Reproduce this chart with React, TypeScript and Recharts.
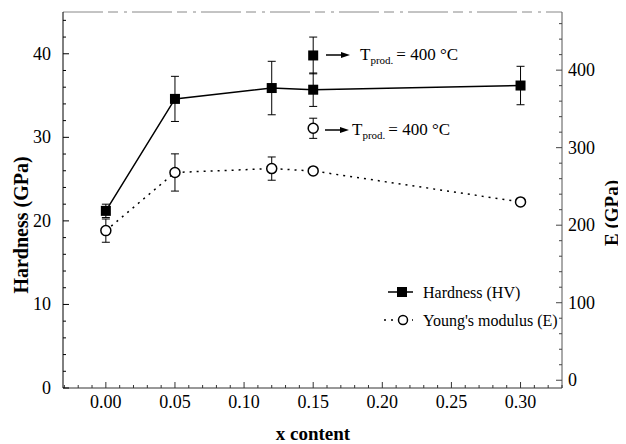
import { ComposedChart, Line, Scatter, XAxis, YAxis, ErrorBar, ReferenceLine } from 'recharts'

// x content of each sample
const xContent = [0, 0.05, 0.12, 0.15, 0.3]
// Hardness (GPa), left axis
const hardness = [21.2, 34.6, 35.9, 35.7, 36.2]
const hardnessErr = [0.8, 2.7, 3.2, 2.0, 2.3]
// Young's modulus (GPa), right axis
const modulus = [193, 268, 273, 270, 230]
const modulusErr = [15, 24, 15, null, null]
// samples produced at 400 °C
const prodX = [0.15]
const prodHardness = [39.8]
const prodHardnessErr = [2.2]
const prodModulus = [325]
const prodModulusErr = [13]

const xMajor = [0, 0.05, 0.1, 0.15, 0.2, 0.25, 0.3]
const hMajor = [0, 10, 20, 30, 40]
const eMajor = [0, 100, 200, 300, 400]

const xTicks = Array.from({ length: 37 }, (_, i) => (i - 3) / 100)
const hTicks = Array.from({ length: 23 }, (_, i) => i * 2)
const eTicks = Array.from({ length: 24 }, (_, i) => i * 20)

const FONT = "'Times New Roman', 'Liberation Serif', serif"

const hardnessData = xContent.map((x, i) => ({ x, y: hardness[i], err: hardnessErr[i] }))
const modulusData = xContent.map((x, i) => ({ x, y: modulus[i], err: modulusErr[i] }))
const prodHardnessData = prodX.map((x, i) => ({ x, y: prodHardness[i], err: prodHardnessErr[i] }))
const prodModulusData = prodX.map((x, i) => ({ x, y: prodModulus[i], err: prodModulusErr[i] }))

const isMajor = (list: number[], v: number) => list.some((m) => Math.abs(m - v) < 1e-9)

function HTick(props: any) {
  const { x, y, payload } = props
  const major = isMajor(hMajor, payload.value)
  return (
    <g>
      <line x1={x} x2={x + (major ? 6 : 3)} y1={y} y2={y} stroke="#000" />
      {major && (
        <text x={x - 12} y={y} textAnchor="end" dominantBaseline="central" fontSize={18} style={{ fontFamily: FONT }} fill="#000">
          {payload.value}
        </text>
      )}
    </g>
  )
}

function ETick(props: any) {
  const { x, y, payload } = props
  const major = isMajor(eMajor, payload.value)
  return (
    <g>
      <line x1={x - (major ? 6 : 3)} x2={x} y1={y} y2={y} stroke="#444" />
      {major && (
        <text x={x + 6} y={y} textAnchor="start" dominantBaseline="central" fontSize={18} style={{ fontFamily: FONT }} fill="#000">
          {payload.value}
        </text>
      )}
    </g>
  )
}

function XTick(props: any) {
  const { x, y, payload } = props
  const major = isMajor(xMajor, payload.value)
  return (
    <g>
      <line x1={x} x2={x} y1={y} y2={y - (major ? 6 : 3)} stroke="#333" />
      {major && (
        <text x={x} y={y + 14} textAnchor="middle" dominantBaseline="central" fontSize={18} style={{ fontFamily: FONT }} fill="#000">
          {payload.value.toFixed(2)}
        </text>
      )}
    </g>
  )
}

const SquareDot = (props: any) => {
  const { cx, cy } = props
  if (cx == null || cy == null) return null
  return <rect x={cx - 5} y={cy - 5} width={10} height={10} fill="#000" />
}

const CircleDot = (props: any) => {
  const { cx, cy } = props
  if (cx == null || cy == null) return null
  return <circle cx={cx} cy={cy} r={5} fill="#fff" stroke="#000" strokeWidth={1.5} />
}

function Annotation({ x, y, tx }: { x: number; y: number; tx: number }) {
  return (
    <g>
      <line x1={x} x2={x + 18} y1={y} y2={y} stroke="#000" strokeWidth={1.5} />
      <polygon points={`${x + 24},${y} ${x + 15},${y - 3} ${x + 15},${y + 3}`} fill="#000" />
      <text x={tx} y={y + 5} fontSize={17}>
        T<tspan fontSize={11} dy={4}>prod.</tspan>
        <tspan dy={-4} dx={3}>= 400 °C</tspan>
      </text>
    </g>
  )
}

export default function App() {
  return (
    <div style={{ position: 'relative', width: 618, height: 436, background: '#fff', fontFamily: FONT }}>
      <ComposedChart width={618} height={436} margin={{ top: 4, right: 14, bottom: 0, left: 0 }}>
        <XAxis
          dataKey="x"
          type="number"
          domain={[-0.031, 0.33]}
          ticks={xTicks}
          interval={0}
          allowDataOverflow
          tickSize={0}
          tickMargin={0}
          tickLine={false}
          tick={<XTick />}
          height={56}
          axisLine={{ stroke: '#333' }}
        />
        <YAxis
          yAxisId="h"
          domain={[0, 45]}
          ticks={hTicks}
          interval={0}
          allowDataOverflow
          tickSize={0}
          tickMargin={0}
          tickLine={false}
          tick={<HTick />}
          width={55}
          axisLine={{ stroke: '#000' }}
        />
        <YAxis
          yAxisId="e"
          orientation="right"
          domain={[-10, 475]}
          ticks={eTicks}
          interval={0}
          allowDataOverflow
          tickSize={0}
          tickMargin={0}
          tickLine={false}
          tick={<ETick />}
          width={50}
          axisLine={{ stroke: '#555' }}
        />
        <ReferenceLine yAxisId="h" y={45} stroke="#888" strokeDasharray="40 5 10 6 3 5" />
        <Line
          yAxisId="h"
          data={hardnessData}
          dataKey="y"
          stroke="#000"
          strokeWidth={1.5}
          dot={false}
          activeDot={false}
          isAnimationActive={false}
        >
          <ErrorBar dataKey="err" width={4} stroke="#000" strokeWidth={1} direction="y" />
        </Line>
        <Line
          yAxisId="e"
          data={modulusData}
          dataKey="y"
          stroke="#000"
          strokeWidth={1.5}
          strokeDasharray="2 5"
          dot={false}
          activeDot={false}
          isAnimationActive={false}
        >
          <ErrorBar dataKey="err" width={4} stroke="#000" strokeWidth={1} direction="y" />
        </Line>
        <Scatter yAxisId="h" data={prodHardnessData} dataKey="y" shape={<SquareDot />} isAnimationActive={false}>
          <ErrorBar dataKey="err" width={4} stroke="#000" strokeWidth={1} direction="y" />
        </Scatter>
        <Scatter yAxisId="e" data={prodModulusData} dataKey="y" shape={() => null} isAnimationActive={false}>
          <ErrorBar dataKey="err" width={4} stroke="#000" strokeWidth={1} direction="y" />
        </Scatter>
        {/* markers on top of the error bars */}
        <Scatter yAxisId="h" data={hardnessData} dataKey="y" shape={<SquareDot />} isAnimationActive={false} />
        <Scatter yAxisId="e" data={modulusData} dataKey="y" shape={<CircleDot />} isAnimationActive={false} />
        <Scatter yAxisId="e" data={prodModulusData} dataKey="y" shape={<CircleDot />} isAnimationActive={false} />
      </ComposedChart>
      <svg
        width={618}
        height={436}
        style={{ position: 'absolute', left: 0, top: 0, pointerEvents: 'none', fontFamily: FONT, overflow: 'visible' }}
      >
        <Annotation x={318} y={47} tx={352} />
        <Annotation x={317} y={122} tx={344} />
        {/* legend */}
        <g transform="translate(372,272)">
          <line x1={8} x2={33} y1={12} y2={12} stroke="#000" strokeWidth={1.5} />
          <rect x={17} y={7} width={10} height={10} fill="#000" />
          <text x={43} y={12} dominantBaseline="central" fontSize={16}>Hardness (HV)</text>
          <line x1={4} x2={33} y1={40} y2={40} stroke="#000" strokeWidth={1.5} strokeDasharray="2 5" />
          <circle cx={23} cy={40} r={4.5} fill="#fff" stroke="#000" strokeWidth={1.5} />
          <text x={43} y={40} dominantBaseline="central" fontSize={16}>Young's modulus (E)</text>
        </g>
        <text
          transform="translate(13,217) rotate(-90)"
          textAnchor="middle"
          dominantBaseline="central"
          fontSize={20}
          fontWeight="bold"
        >
          Hardness (GPa)
        </text>
        <text
          transform="translate(603,205) rotate(-90)"
          textAnchor="middle"
          dominantBaseline="central"
          fontSize={19}
          fontWeight="bold"
        >
          E (GPa)
        </text>
        <text x={305} y={425} textAnchor="middle" dominantBaseline="central" fontSize={19} fontWeight="bold">
          x content
        </text>
      </svg>
    </div>
  )
}
